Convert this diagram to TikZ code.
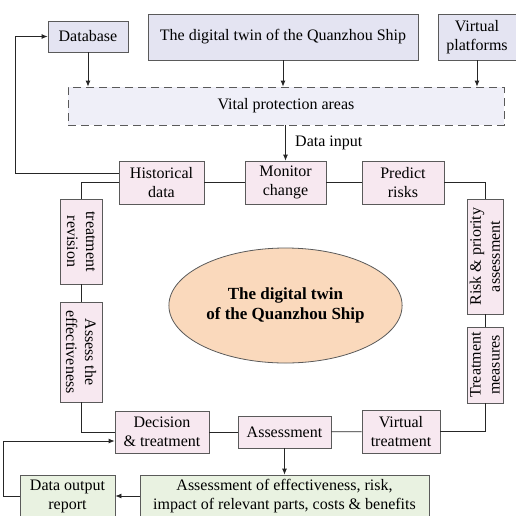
\documentclass[tikz,border=0pt]{standalone}
\usepackage{fontspec}
\setmainfont{Liberation Serif}
\usetikzlibrary{arrows.meta,positioning,shapes.geometric}

\definecolor{lav}{HTML}{E4E4F2}
\definecolor{lavlight}{HTML}{EFEFF8}
\definecolor{pinkfill}{HTML}{F7E8F0}
\definecolor{greenfill}{HTML}{E9F2E1}
\definecolor{peach}{HTML}{FAD9BC}
\definecolor{edge}{HTML}{5A5A5A}

\begin{document}
\begin{tikzpicture}[
  x=1pt, y=-1pt,
  base/.style={draw=edge, line width=0.8pt, align=center, inner sep=1pt,
               font=\fontsize{16}{19}\selectfont},
  topbox/.style={base, fill=lav},
  areabox/.style={base, fill=lavlight, dash pattern=on 8pt off 5pt},
  pinkbox/.style={base, fill=pinkfill},
  greenbox/.style={base, fill=greenfill},
  link/.style={draw=black!85, line width=0.8pt},
  arr/.style={link, -{Latex[length=6pt,width=5pt]}}
]
\useasboundingbox (0,0) rectangle (516,515);
\clip (0,0) rectangle (516,515);

% sources
\node[topbox, minimum width=80, minimum height=31] (db) at (88,36.5) {Database};
\node[topbox, minimum width=270, minimum height=46] (twin) at (283,37) {The digital twin of the Quanzhou Ship};
\node[topbox, minimum width=78, minimum height=46] (vp) at (477,37) {Virtual\\platforms};
\node[areabox, minimum width=436, minimum height=38] (vpa) at (286,106) {Vital protection areas};

\draw[arr] (db.south) -- (db.south |- vpa.north);
\draw[arr] (twin.south) -- (twin.south |- vpa.north);
\draw[arr] (vp.south) -- (vp.south |- vpa.north);

% loop
\node[pinkbox, minimum width=85, minimum height=43] (hist) at (161.5,182.5) {Historical\\data};
\node[pinkbox, minimum width=81, minimum height=43] (mon)  at (285.5,182.5) {Monitor\\change};
\node[pinkbox, minimum width=82, minimum height=43] (pred) at (403,182.5) {Predict\\risks};
\node[pinkbox, rotate=90, minimum width=115, minimum height=36] (risk) at (485,256.5) {Risk \& priority\\assessment};
\node[pinkbox, rotate=90, minimum width=76, minimum height=36] (treat) at (485,365) {Treatment\\measures};
\node[pinkbox, minimum width=78, minimum height=43] (virt) at (401,431.5) {Virtual\\treatment};
\node[pinkbox, minimum width=93, minimum height=32] (assess) at (284.5,432) {Assessment};
\node[pinkbox, minimum width=94, minimum height=42] (dec) at (162,432) {Decision\\\& treatment};
\node[pinkbox, rotate=-90, minimum width=100, minimum height=42] (eff) at (81,352) {Assess the\\effectiveness};
\node[pinkbox, rotate=-90, minimum width=85, minimum height=42] (rev) at (81,241.5) {treatment\\revision};

\node[ellipse, draw=edge, line width=0.8pt, fill=peach, minimum width=201, minimum height=115,
      align=center, font=\fontsize{17}{20}\selectfont\bfseries] (core) at (285.5,305.5)
      {The digital twin\\of the Quanzhou Ship};

\draw[arr] (vpa.south -| mon.north) -- (mon.north)
  node[midway, right=6pt, font=\fontsize{16}{19}\selectfont] (din) {Data input};

\draw[link] (hist) -- (mon);
\draw[link] (mon) -- (pred);
\draw[link] (pred.east) -| (risk);
\draw[link] (risk) -- (treat);
\draw[link] (treat) |- (virt.east);
\draw[link] (virt) -- (assess);
\draw[link] (assess) -- (dec);
\draw[link] (dec.west) -| (eff);
\draw[link] (eff) -- (rev);
\draw[link] (rev) |- (hist.west);
\draw[arr] ([yshift=9.5pt]hist.west) -- ++(-103,0) |- (db.west);

% outputs
\node[greenbox, minimum width=289, minimum height=42] (big) at (284.5,496)
  {Assessment of effectiveness, risk,\\impact of relevant parts, costs \& benefits};
\node[greenbox, minimum width=95, minimum height=42] (out) at (67.5,496) {Data output\\report};

\draw[arr] (assess.south) -- (big.north);
\draw[arr] (big.west) -- (out.east);
\draw[arr] (out.west) -- ++(-16,0) |- ([yshift=-9pt]dec.west);

\end{tikzpicture}
\end{document}
